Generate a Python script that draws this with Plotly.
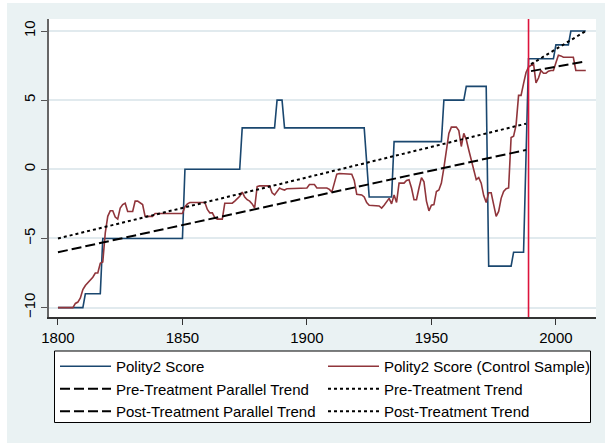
import plotly.graph_objects as go

# ---- data ----
blue_years = [1800, 1810, 1811, 1817, 1818, 1850, 1851, 1873, 1874, 1887, 1888, 1890, 1891,
              1923, 1925, 1934, 1935, 1954, 1955, 1963, 1964, 1972, 1973, 1982, 1983, 1987,
              1989, 1999, 2000, 2005, 2006, 2012]
blue_vals = [-10, -10, -9, -9, -5, -5, 0, 0, 3, 3, 5, 5, 3,
             3, -2, -2, 2, 2, 5, 5, 6, 6, -7, -7, -6, -6,
             8, 8, 9, 9, 10, 10]

red_years = [1800, 1806, 1807, 1808, 1809, 1810, 1811, 1812, 1813, 1814, 1815, 1816, 1817, 1818,
             1819, 1820, 1821, 1822, 1823, 1824, 1825, 1826, 1827, 1828, 1830, 1831, 1832, 1833,
             1834, 1835, 1838, 1839, 1850, 1851, 1852, 1853, 1859, 1860, 1861, 1862, 1863, 1864,
             1866, 1867, 1870, 1871, 1872, 1873, 1874, 1875, 1876, 1877, 1878, 1879, 1880, 1881,
             1885, 1886, 1887, 1888, 1889, 1890, 1891, 1892, 1899, 1900, 1901, 1903, 1904, 1908,
             1909, 1910, 1911, 1912, 1913, 1917, 1918, 1919, 1920, 1922, 1923, 1924, 1925, 1929,
             1930, 1931, 1932, 1933, 1934, 1935, 1936, 1937, 1939, 1940, 1941, 1942, 1943, 1944,
             1945, 1946, 1947, 1948, 1949, 1950, 1951, 1952, 1953, 1954, 1955, 1956, 1957, 1958,
             1960, 1961, 1962, 1963, 1964, 1965, 1966, 1967, 1968, 1969, 1970, 1971, 1972, 1973,
             1974, 1975, 1976, 1977, 1978, 1979, 1980, 1981, 1982, 1983, 1984, 1985, 1986, 1987,
             1988, 1989, 1990, 1991, 1992, 1993, 1994, 1995, 1996, 1997, 1998, 1999, 2000, 2001,
             2002, 2003, 2007, 2008, 2012]
red_vals = [-10, -10, -9.7, -9.6, -9.3, -8.7, -8.4, -8.2, -8.0, -7.8, -7.5, -7.5, -6.8, -6.7,
            -4.6, -3.4, -3.0, -3.0, -3.45, -3.6, -2.8, -2.55, -2.45, -3.05, -3.05, -2.3, -2.3, -2.4,
            -2.55, -3.4, -3.4, -3.2, -3.2, -2.7, -2.5, -2.4, -2.4, -2.9, -3.15, -3.15, -3.5, -3.6,
            -3.6, -2.45, -2.45, -2.3, -2.1, -1.95, -1.65, -2.0, -2.2, -2.3, -2.5, -2.8, -1.25, -1.2,
            -1.2, -1.7, -1.85, -1.6, -1.35, -1.45, -1.5, -1.4, -1.4, -1.35, -1.1, -1.1, -1.35, -1.35,
            -1.45, -1.65, -1.0, -0.35, -0.3, -0.3, -0.35, -0.8, -1.8, -1.85, -2.0, -2.4, -2.6, -2.65,
            -2.8, -2.6, -2.35, -2.1, -2.5, -1.85, -2.4, -1.0, -1.0, -0.8, -0.75, -1.35, -2.2, -2.2,
            -1.35, -0.6, -0.9, -2.3, -3.0, -2.6, -2.55, -1.6, -1.5, -1.0, 0.1, 1.5, 2.6, 3.05,
            3.05, 2.8, 1.65, 2.6, 2.15, 1.4, 0.7, -0.15, -0.75, -0.6, -1.0, -1.9, -2.4, -1.7,
            -1.7, -2.55, -3.4, -3.05, -2.1, -1.6, -1.4, -1.35, 2.3, 2.4, 3.2, 5.35, 5.35, 6.2,
            7.0, 7.4, 7.5, 7.65, 6.25, 6.6, 7.15, 6.95, 6.95, 7.1, 7.15, 7.15, 7.7, 8.25,
            8.2, 8.1, 8.1, 7.15, 7.15]

pre_years = [1800, 1988]
pre_parallel_vals = [-6.0, 1.4]
pre_trend_vals = [-5.0, 3.3]
post_years = [1990, 2012]
post_parallel_vals = [7.1, 7.8]
post_trend_vals = [7.6, 10.0]
treatment_year = 1989

x_ticks = [1800, 1850, 1900, 1950, 2000]
y_ticks = [-10, -5, 0, 5, 10]

names = ["Polity2 Score", "Polity2 Score (Control Sample)",
         "Pre-Treatment Parallel Trend", "Pre-Treatment Trend",
         "Post-Treatment Parallel Trend", "Post-Treatment Trend"]

NAVY = "#1A476F"
MAROON = "#90353B"
FONT = "Liberation Sans, Arial, Helvetica, sans-serif"
LONGDASH = "10px,4px"
DOTS = "3px,3px"

fig = go.Figure()
fig.add_trace(go.Scatter(x=blue_years, y=blue_vals, mode="lines", name=names[0],
                         line=dict(color=NAVY, width=1.6)))
fig.add_trace(go.Scatter(x=red_years, y=red_vals, mode="lines", name=names[1],
                         line=dict(color=MAROON, width=1.6)))
fig.add_trace(go.Scatter(x=pre_years, y=pre_parallel_vals, mode="lines", name=names[2],
                         line=dict(color="black", width=2, dash=LONGDASH)))
fig.add_trace(go.Scatter(x=pre_years, y=pre_trend_vals, mode="lines", name=names[3],
                         line=dict(color="black", width=2, dash=DOTS)))
fig.add_trace(go.Scatter(x=post_years, y=post_parallel_vals, mode="lines", name=names[4],
                         line=dict(color="black", width=2, dash=LONGDASH)))
fig.add_trace(go.Scatter(x=post_years, y=post_trend_vals, mode="lines", name=names[5],
                         line=dict(color="black", width=2, dash=DOTS)))

fig.add_shape(type="line", xref="x", yref="paper", x0=treatment_year, x1=treatment_year,
              y0=0, y1=1, line=dict(color="#DC143C", width=1.6))

# page geometry (pixels) -> paper coordinates
W, H = 605, 443
L, R, T, B = 49, 9, 19, 126
pw, ph = W - L - R, H - T - B
def px(x):
    return (x - L) / pw
def py(y):
    return (H - B - y) / ph

# white strips at top/left edge of the image (outside the grey graph region)
fig.add_shape(type="rect", xref="paper", yref="paper", x0=px(0), x1=px(7), y0=py(H), y1=py(0),
              fillcolor="white", line_width=0, layer="above")
fig.add_shape(type="rect", xref="paper", yref="paper", x0=px(0), x1=px(W), y0=py(3), y1=py(0),
              fillcolor="white", line_width=0, layer="above")
# legend frame: white fill under the legend, black outline
fig.add_shape(type="rect", xref="paper", yref="paper", x0=px(54.5), x1=px(590.5),
              y0=py(422.5), y1=py(351), fillcolor="white", line_width=0, layer="below")
fig.add_shape(type="rect", xref="paper", yref="paper", x0=px(54.5), x1=px(590.5),
              y0=py(422.5), y1=py(351), fillcolor="rgba(0,0,0,0)",
              line=dict(color="black", width=1), layer="above")

fig.update_layout(
    width=W, height=H,
    margin=dict(l=L, r=R, t=T, b=B, pad=0, autoexpand=False),
    paper_bgcolor="#EAF2F3",
    plot_bgcolor="white",
    font=dict(family=FONT, size=15, color="black"),
    showlegend=True,
    legend=dict(
        orientation="h",
        x=px(55), xanchor="left",
        y=py(350), yanchor="top",
        bgcolor="rgba(0,0,0,0)", borderwidth=0,
        entrywidth=202, entrywidthmode="pixels",
        itemwidth=51,
        font=dict(family=FONT, size=15, color="black"),
        traceorder="normal",
    ),
    xaxis=dict(
        range=[1796.4, 2016.1], tickvals=x_ticks, ticks="outside", ticklen=6,
        tickcolor="#333", tickwidth=1, showgrid=False, zeroline=False,
        showline=True, linecolor="#333", linewidth=1.5,
        tickfont=dict(family=FONT, size=15, color="black"),
    ),
    yaxis=dict(
        range=[-10.68, 10.87], tickvals=y_ticks, ticks="outside", ticklen=6,
        tickcolor="#555", tickwidth=1, showgrid=True, gridcolor="#E1EAEE", gridwidth=1.5,
        zeroline=False, showline=True, linecolor="#666", linewidth=1.5,
        tickangle=-90,
        tickfont=dict(family=FONT, size=15, color="black"),
    ),
)

fig.write_html("out.html", config={"displayModeBar": False},
               post_script="document.body.style.margin='0';document.body.style.overflow='hidden';")
